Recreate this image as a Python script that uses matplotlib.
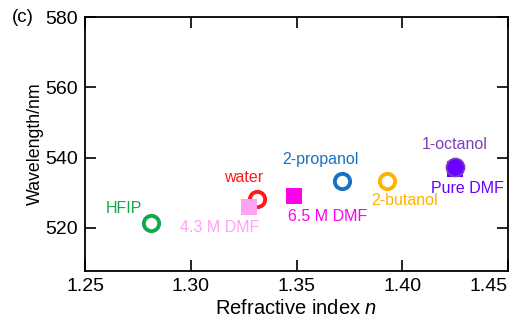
import matplotlib
matplotlib.use("Agg")
import matplotlib.pyplot as plt

plt.rcParams['font.family'] = ['Liberation Sans', 'DejaVu Sans']
plt.rcParams['mathtext.fontset'] = 'custom'
plt.rcParams['mathtext.rm'] = 'Liberation Sans'
plt.rcParams['mathtext.it'] = 'Liberation Sans:italic'

names = ["HFIP", "water", "4.3 M DMF", "6.5 M DMF", "2-propanol", "2-butanol", "Pure DMF", "1-octanol"]
n_vals = [1.281, 1.3313, 1.3275, 1.349, 1.3715, 1.393, 1.4249, 1.425]
wl_vals = [521.4, 528.3, 526.0, 529.0, 533.4, 533.4, 536.6, 537.4]
markers = ["o", "o", "s", "s", "o", "o", "s", "o"]
filled = [False, False, True, True, False, False, True, True]
colors = ["#13a84b", "#ff1a1a", "#ffa3f2", "#ff00ee", "#1672c4", "#ffb300", "#6a00ff", "#7f3fbf"]
face = ["white", "white", "#ffa3f2", "#ff00ee", "white", "white", "#6a00ff", "#6a00ff"]
label_offsets = [(-27, 14), (-13, 21), (-29, -21), (33, -20), (-22, 21), (17, -20), (13, -19), (0, 22)]

fig = plt.figure(figsize=(5.23, 3.20), dpi=100)
ax = fig.add_axes([85/523, 1 - 271/320, (508-85)/523, (271-17)/320])

for i, (name, x, y, m, f, c, fc, off) in enumerate(
        zip(names, n_vals, wl_vals, markers, filled, colors, face, label_offsets)):
    if m == "o":
        if f:
            ax.plot(x, y, marker="o", ms=13, mew=1.2, mec=c, mfc=fc, ls="none", zorder=4)
        else:
            ax.plot(x, y, marker="o", ms=11, mew=2.8, mec=c, mfc=fc, ls="none", zorder=3)
    else:
        ax.plot(x, y, marker="s", ms=11.5, mew=0, mfc=fc, ls="none", zorder=3.5)
    ax.annotate(name, (x, y), xytext=off, textcoords="offset pixels",
                ha="center", va="center", color=c, fontsize=11.5)

ax.set_xlim(1.25, 1.45)
ax.set_ylim(507.7, 580)
ax.set_xticks([1.25, 1.30, 1.35, 1.40, 1.45])
ax.set_xticklabels(["1.25", "1.30", "1.35", "1.40", "1.45"])
ax.set_yticks([520, 540, 560, 580])
ax.tick_params(direction="in", top=True, right=True, length=8, width=1.2,
               labelsize=14, pad=5)
ax.get_xticklabels()[-1].set_horizontalalignment("right")
for s in ax.spines.values():
    s.set_linewidth(1.3)
ax.set_xlabel("Refractive index $\\mathit{n}$", fontsize=14.5, labelpad=3)
ax.set_ylabel("Wavelength/nm", fontsize=12.8, labelpad=1)
fig.text(12/523, 1 - 17.5/320, "(c)", fontsize=13.5, ha="left", va="center")

fig.savefig("out.png", dpi=100)
